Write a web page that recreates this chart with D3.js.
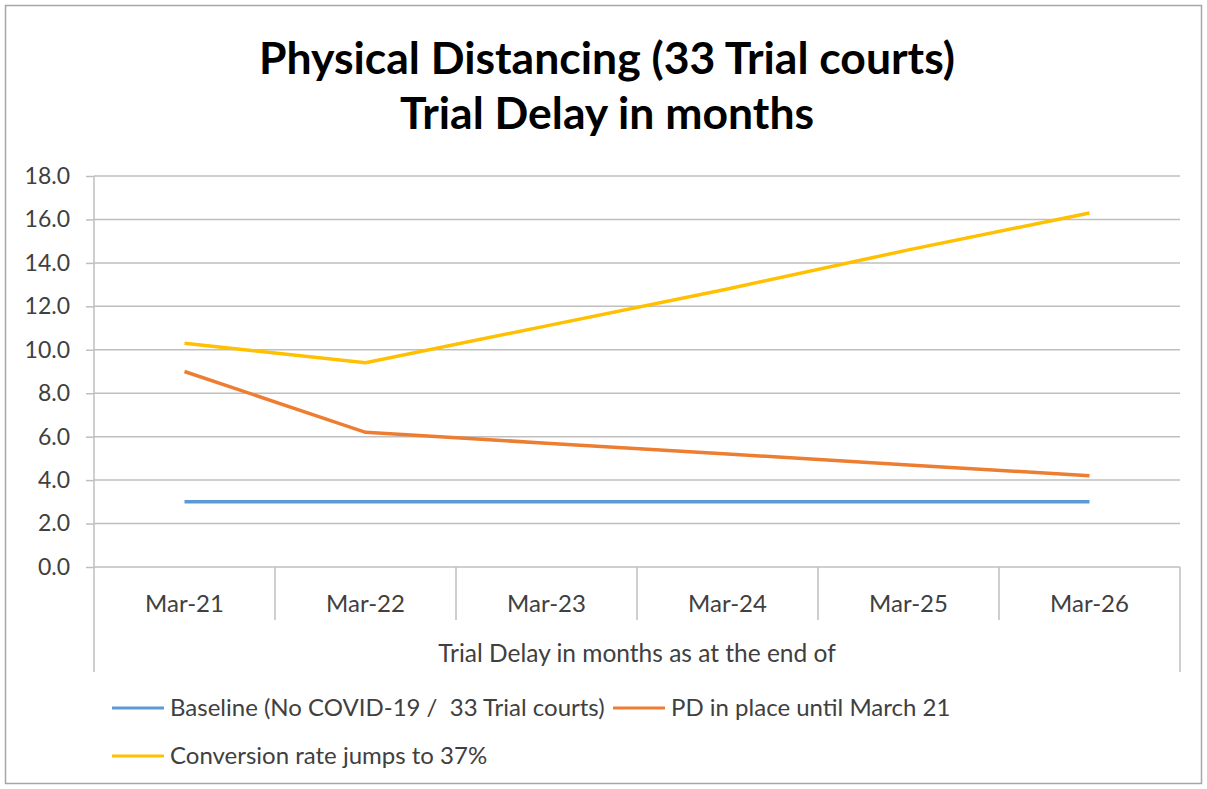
<!DOCTYPE html>
<html>
<head>
<meta charset="utf-8">
<script src="https://cdn.jsdelivr.net/npm/d3@7"></script>
<style>
  body { margin: 0; background: #fff; }
  text { font-family: Lato, "Open Sans", sans-serif; white-space: pre; }
</style>
</head>
<body>
<svg id="chart" width="1207" height="789"></svg>
<script>
const categories = ["Mar-21", "Mar-22", "Mar-23", "Mar-24", "Mar-25", "Mar-26"];
const baseline = [3.0, 3.0, 3.0, 3.0, 3.0, 3.0];
const pdUntilMar21 = [9.0, 6.2, 5.7, 5.2, 4.7, 4.2];
const conversion37 = [10.3, 9.4, 11.1, 12.8, 14.6, 16.3];
const yTicks = [0, 2, 4, 6, 8, 10, 12, 14, 16, 18];
const titleLines = ["Physical Distancing (33 Trial courts)", "Trial Delay in months"];
const xAxisTitle = "Trial Delay in months as at the end of";

const series = [
  { name: "Baseline (No COVID-19 /  33 Trial courts)", values: baseline, color: "#5B9BD5" },
  { name: "PD in place until March 21", values: pdUntilMar21, color: "#ED7D31" },
  { name: "Conversion rate jumps to 37%", values: conversion37, color: "#FFC000" }
];

const svg = d3.select("#chart"),
      margin = { top: 176, right: 27, bottom: 222, left: 94 },
      width = +svg.attr("width") - margin.left - margin.right,
      height = +svg.attr("height") - margin.top - margin.bottom;

// outer frame
svg.append("rect")
    .attr("x", 5.5).attr("y", 5.5)
    .attr("width", 1196).attr("height", 778)
    .attr("fill", "#fff")
    .attr("stroke", "#a6a6a6")
    .attr("stroke-width", 1.5);

svg.selectAll(".title")
    .data(titleLines)
    .enter().append("text")
    .attr("class", "title")
    .attr("x", 607)
    .attr("y", (d, i) => 74 + i * 55)
    .attr("text-anchor", "middle")
    .style("font-size", "44.5px")
    .style("font-weight", "bold")
    .attr("fill", "#000")
    .text(d => d);

const g = svg.append("g").attr("transform", `translate(${margin.left},${margin.top})`);

const x = d3.scaleBand().domain(categories).range([0, width]);
const y = d3.scaleLinear().domain([0, 18]).range([height, 0]);

// gridlines + y axis
const yAxis = g.append("g")
    .call(d3.axisLeft(y).tickValues(yTicks).tickSize(8).tickFormat(d3.format(".1f")));
yAxis.select(".domain").remove();
yAxis.selectAll(".tick line").attr("stroke", "#bfbfbf").attr("stroke-width", 1.5);
yAxis.selectAll(".tick text")
    .attr("x", -24)
    .attr("fill", "#404040")
    .style("font-size", "23px");

g.append("g")
    .selectAll("line")
    .data(yTicks)
    .enter().append("line")
    .attr("x1", 0).attr("x2", width)
    .attr("y1", d => y(d)).attr("y2", d => y(d))
    .attr("stroke", "#bfbfbf")
    .attr("stroke-width", 1.5);

// vertical axis line
g.append("line")
    .attr("x1", 0).attr("x2", 0)
    .attr("y1", 0).attr("y2", height + 105)
    .attr("stroke", "#bfbfbf").attr("stroke-width", 1.5);
g.append("line")
    .attr("x1", width).attr("x2", width)
    .attr("y1", height).attr("y2", height + 105)
    .attr("stroke", "#bfbfbf").attr("stroke-width", 1.5);

// category separators
g.selectAll(".sep")
    .data(categories.slice(1))
    .enter().append("line")
    .attr("class", "sep")
    .attr("x1", d => x(d)).attr("x2", d => x(d))
    .attr("y1", height).attr("y2", height + 53)
    .attr("stroke", "#bfbfbf").attr("stroke-width", 1.5);

g.selectAll(".cat")
    .data(categories)
    .enter().append("text")
    .attr("class", "cat")
    .attr("x", d => x(d) + x.bandwidth() / 2)
    .attr("y", height + 45)
    .attr("text-anchor", "middle")
    .attr("fill", "#404040")
    .style("font-size", "24px")
    .text(d => d);

g.append("text")
    .attr("x", width / 2)
    .attr("y", height + 95)
    .attr("text-anchor", "middle")
    .attr("fill", "#404040")
    .style("font-size", "24.5px")
    .text(xAxisTitle);

const line = d3.line()
    .x((d, i) => x(categories[i]) + x.bandwidth() / 2)
    .y(d => y(d));

series.forEach(s => {
  g.append("path")
      .datum(s.values)
      .attr("d", line)
      .attr("fill", "none")
      .attr("stroke", s.color)
      .attr("stroke-width", 3.5);
});

// legend
const legendPos = [[112, 708], [613, 708], [112, 756]];
series.forEach((s, i) => {
  const lg = svg.append("g").attr("transform", `translate(${legendPos[i][0]},${legendPos[i][1]})`);
  lg.append("line")
      .attr("x1", 0).attr("x2", 52)
      .attr("stroke", s.color).attr("stroke-width", 3);
  lg.append("text")
      .attr("x", 58)
      .attr("y", 8)
      .attr("fill", "#404040")
      .style("font-size", "24px")
      .text(s.name);
});
</script>
</body>
</html>
